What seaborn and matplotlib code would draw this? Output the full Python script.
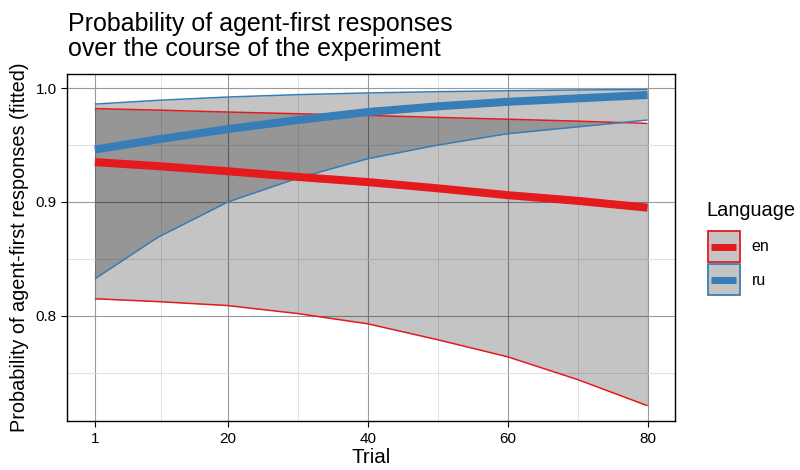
import pandas as pd
import matplotlib.pyplot as plt
import seaborn as sns
from matplotlib.patches import Patch, Rectangle
from matplotlib.lines import Line2D
from matplotlib.ticker import FixedLocator

# Data (fitted probabilities with CI bounds)
trial = [1, 10, 20, 30, 40, 50, 60, 70, 80]
en_fit = [0.935, 0.9315, 0.927, 0.922, 0.9175, 0.912, 0.906, 0.901, 0.895]
en_lower = [0.815, 0.8125, 0.809, 0.802, 0.793, 0.779, 0.764, 0.744, 0.721]
en_upper = [0.982, 0.9807, 0.979, 0.9775, 0.976, 0.9743, 0.9727, 0.971, 0.969]
ru_fit = [0.946, 0.955, 0.964, 0.972, 0.979, 0.984, 0.988, 0.991, 0.994]
ru_lower = [0.8325, 0.869, 0.900, 0.921, 0.938, 0.950, 0.960, 0.966, 0.972]
ru_upper = [0.986, 0.9893, 0.9922, 0.9943, 0.9958, 0.9969, 0.9977, 0.9984, 0.9988]

languages = ['en', 'ru']
colors = {'en': '#E41A1C', 'ru': '#377EB8'}

df = pd.concat([
    pd.DataFrame({'trial': trial, 'fit': en_fit, 'lower': en_lower,
                  'upper': en_upper, 'language': 'en'}),
    pd.DataFrame({'trial': trial, 'fit': ru_fit, 'lower': ru_lower,
                  'upper': ru_upper, 'language': 'ru'}),
])

sns.set_style('white')
plt.rcParams['font.family'] = ['Liberation Sans', 'DejaVu Sans']
plt.rcParams['text.color'] = 'black'
plt.rcParams['axes.labelcolor'] = 'black'

fig = plt.figure(figsize=(8, 4.7), dpi=100)
ax = fig.add_axes([0.084, 0.104, 0.76, 0.7385])

ribbon_fill = (0, 0, 0, 0.23)

# ribbons + their outlines, one language at a time
for lang in languages:
    d = df[df['language'] == lang]
    ax.fill_between(d['trial'], d['lower'], d['upper'], color=ribbon_fill,
                    linewidth=0, zorder=2)
    sns.lineplot(data=d, x='trial', y='lower', color=colors[lang], linewidth=1.1,
                 ax=ax, zorder=3)
    sns.lineplot(data=d, x='trial', y='upper', color=colors[lang], linewidth=1.1,
                 ax=ax, zorder=3)

# fitted lines on top
sns.lineplot(data=df, x='trial', y='fit', hue='language', palette=colors,
             linewidth=5.8, legend=False, ax=ax, zorder=4)
for ln in ax.get_lines():
    ln.set_solid_capstyle('butt')

ax.set_xlim(-2.95, 83.95)
ax.set_ylim(0.7075, 1.0124)
ax.set_xticks([1, 20, 40, 60, 80])
ax.set_yticks([0.8, 0.9, 1.0])
ax.set_yticklabels(['0.8', '0.9', '1.0'])
ax.xaxis.set_minor_locator(FixedLocator([10.5, 30, 50, 70]))
ax.yaxis.set_minor_locator(FixedLocator([0.75, 0.85, 0.95]))
ax.grid(True, which='major', color='#9a9a9a', linewidth=0.8)
ax.grid(True, which='minor', color='#dcdcdc', linewidth=0.6)
ax.set_axisbelow(True)
for s in ax.spines.values():
    s.set_color('black')
    s.set_linewidth(1.0)
ax.tick_params(axis='both', which='major', direction='out', length=4, width=0.8,
               color='black', labelsize=11, labelcolor='black', bottom=True, left=True)
ax.tick_params(axis='both', which='minor', length=0)

ax.set_xlabel('Trial', fontsize=14.8, labelpad=2)
ax.set_ylabel('Probability of agent-first responses (fitted)', fontsize=14.3, labelpad=5)

fig.text(0.085, 0.974, 'Probability of agent-first responses\nover the course of the experiment',
         fontsize=18, ha='left', va='top', linespacing=1.02)


# legend key: grey ribbon box with coloured border and a thick line through the middle
class RibbonKey:
    def legend_artist(self, legend, orig_handle, fontsize, handlebox):
        x0, y0 = -handlebox.xdescent, -handlebox.ydescent
        w, h = handlebox.width, handlebox.height
        col = orig_handle.get_edgecolor()
        rect = Rectangle((x0, y0), w, h, facecolor=ribbon_fill, edgecolor=col,
                         linewidth=1.3, transform=handlebox.get_transform())
        line = Line2D([x0 + 2.5, x0 + w - 2.5], [y0 + h / 2, y0 + h / 2], color=col,
                      linewidth=5, solid_capstyle='butt',
                      transform=handlebox.get_transform())
        handlebox.add_artist(rect)
        handlebox.add_artist(line)
        return rect


# legend title as separate text so the gap to the keys matches
fig.text(0.8835, 0.553, 'Language', fontsize=14.4, ha='left', va='center')

handles = [Patch(edgecolor=colors[lang], label=lang) for lang in languages]
leg = fig.legend(handles=handles, loc='center left', bbox_to_anchor=(0.8665, 0.44),
                 frameon=False, fontsize=11.5,
                 handlelength=2.0, handleheight=2.64, labelspacing=0.12,
                 handletextpad=0.75, handler_map={Patch: RibbonKey()})
for t in leg.get_texts():
    t.set_color('black')

fig.savefig('out.png', dpi=100)
